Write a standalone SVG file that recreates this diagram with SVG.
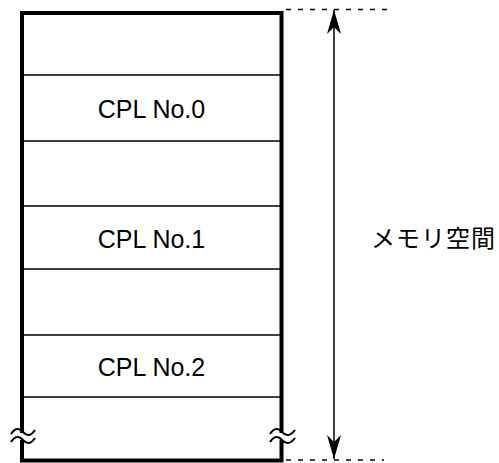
<svg xmlns="http://www.w3.org/2000/svg" width="499" height="463" viewBox="0 0 499 463">
  <defs>
    <style>
      .frame { fill: none; stroke: #000; stroke-width: 4; }
      .div { stroke: #000; stroke-width: 1.6; }
      .dot { stroke: #000; stroke-width: 1.5; stroke-dasharray: 5 7; }
      .lbl { font-family: "Liberation Sans", Arial, sans-serif; font-size: 25px; fill: #000; text-anchor: middle; }
      .jp { font-family: "Noto Sans CJK JP", "Noto Sans CJK SC", sans-serif; font-size: 24px; fill: #000; letter-spacing: 1px; }
      .wave { fill: none; stroke: #000; stroke-width: 2; }
    </style>
    <marker id="ah" viewBox="0 0 24 16" refX="24" refY="8" markerWidth="24" markerHeight="16" markerUnits="userSpaceOnUse" orient="auto-start-reverse">
      <path d="M24,8 L0,1 L7,8 L0,15 Z" fill="#000"/>
    </marker>
  </defs>
  <rect width="499" height="463" fill="#fff"/>

  <g id="memory">
    <rect class="frame" x="22" y="13" width="259.5" height="447.5"/>
    <line class="div" x1="22" y1="75" x2="281.5" y2="75"/>
    <line class="div" x1="22" y1="141" x2="281.5" y2="141"/>
    <line class="div" x1="22" y1="206" x2="281.5" y2="206"/>
    <line class="div" x1="22" y1="269" x2="281.5" y2="269"/>
    <line class="div" x1="22" y1="335" x2="281.5" y2="335"/>
    <line class="div" x1="22" y1="397" x2="281.5" y2="397"/>
  </g>
  <g id="cpl0"><text class="lbl" x="151.5" y="117.5">CPL No.0</text></g>
  <g id="cpl1"><text class="lbl" x="151.5" y="248">CPL No.1</text></g>
  <g id="cpl2"><text class="lbl" x="151.5" y="376">CPL No.2</text></g>

  <g id="breaks">
    <rect x="17" y="433" width="10" height="7" fill="#fff"/>
    <path class="wave" d="M11,434 Q17,425 23,432 Q29,439 35,430"/>
    <path class="wave" d="M11,442 Q17,433 23,440 Q29,447 35,438"/>
    <rect x="276.5" y="433" width="10" height="7" fill="#fff"/>
    <path class="wave" d="M270,434 Q276,425 282,432 Q288,439 295,430"/>
    <path class="wave" d="M270,442 Q276,433 282,440 Q288,447 295,438"/>
  </g>

  <g id="connectors">
    <line class="dot" x1="286" y1="9.5" x2="388" y2="9.5"/>
    <line class="dot" x1="286" y1="460" x2="384" y2="460"/>
    <line x1="334" y1="10" x2="334" y2="459" stroke="#000" stroke-width="1.5" marker-start="url(#ah)" marker-end="url(#ah)"/>
  </g>

  <g id="label"><text class="jp" x="371" y="247">メモリ空間</text></g>
</svg>
